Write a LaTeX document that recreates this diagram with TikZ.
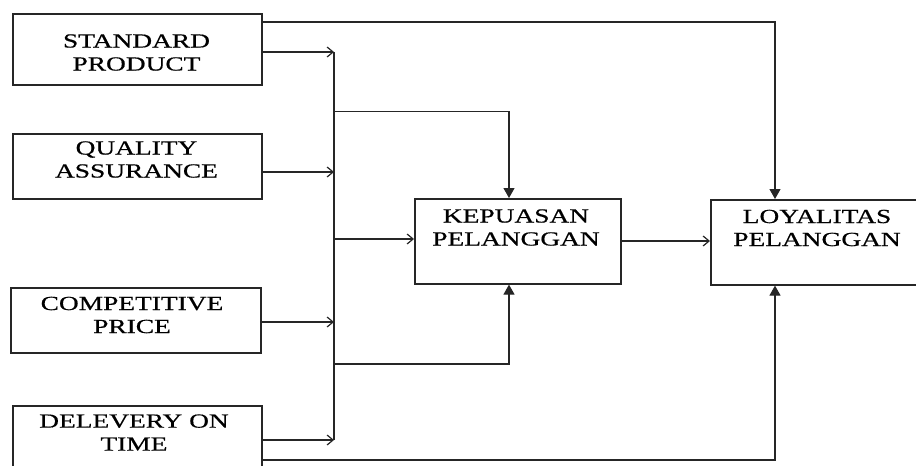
\documentclass[tikz,border=0pt]{standalone}
\usepackage{fontspec}
\setmainfont{Liberation Serif}[FakeStretch=1.37,FakeBold=0.6]
\usetikzlibrary{arrows.meta}
\begin{document}
\begin{tikzpicture}[x=1pt,y=-1pt,
  box/.style={draw=black!85, line width=1.6pt, rectangle, inner sep=0pt, anchor=north west},
  lbl/.style={font=\fontsize{20}{23}\selectfont, align=center, inner sep=0pt, text=black},
  ln/.style={line width=1.2pt, draw=black!85},
  openarr/.style={ln, -{Straight Barb[length=6pt,width=10pt,line width=1.2pt]}},
  fillarr/.style={ln, -{Triangle[length=10pt,width=11pt]}}]
\useasboundingbox (0,0) rectangle (916,466);
\clip (0,0) rectangle (916,466);
% boxes
\node[box, minimum width=249pt, minimum height=71pt] (sp) at (12,13) {};
\node[box, minimum width=249pt, minimum height=65pt] (qa) at (12,133) {};
\node[box, minimum width=250pt, minimum height=65pt] (cp) at (10,287) {};
\node[box, minimum width=249pt, minimum height=80pt] (dt) at (12,405) {};
\node[box, minimum width=206pt, minimum height=85pt] (kp) at (414,198) {};
\node[box, minimum width=230pt, minimum height=85pt] (lp) at (710,199) {};
% labels
\node[lbl] (tsp) at (136.5,52.5) {STANDARD\\PRODUCT};
\node[lbl] (tqa) at (136.5,159.5) {QUALITY\\ASSURANCE};
\node[lbl] (tcp) at (132,315) {COMPETITIVE\\PRICE};
\node[lbl] (tdt) at (134,432.5) {DELEVERY ON\\TIME};
\node[lbl] (tkp) at (516,227.5) {KEPUASAN\\PELANGGAN};
\node[lbl] (tlp) at (817,228) {LOYALITAS\\PELANGGAN};
% bus coordinates
\coordinate (b1) at (334,52);
\coordinate (b2) at (334,172);
\coordinate (b3) at (334,322);
\coordinate (b4) at (334,440);
\coordinate (bt) at (334,111.5);
\coordinate (bm) at (334,239);
\coordinate (bb) at (334,364);
\coordinate (kt) at (509,111.5);
\coordinate (kb) at (509,364);
\coordinate (lt) at (775,22);
\coordinate (lb) at (775,460);
% bus
\draw[ln] (b1) -- (b4);
% inputs to bus
\draw[openarr] (sp.east |- b1) -- (b1);
\draw[openarr] (qa.east |- b2) -- (b2);
\draw[openarr] (cp.east |- b3) -- (b3);
\draw[openarr] (dt.east |- b4) -- (b4);
% bus to kepuasan
\draw[fillarr] (bt) -- (kt) -- (kp.north -| kt);
\draw[openarr] (bm) -- (kp.west |- bm);
\draw[fillarr] (bb) -- (kb) -- (kp.south -| kb);
% kepuasan to loyalitas
\draw[openarr] (kp.east |- 0,241) -- (lp.west |- 0,241);
% direct lines to loyalitas
\draw[fillarr] (sp.east |- lt) -- (lt) -- (lp.north -| lt);
\draw[fillarr] (dt.east |- lb) -- (lb) -- (lp.south -| lb);
\end{tikzpicture}
\end{document}
